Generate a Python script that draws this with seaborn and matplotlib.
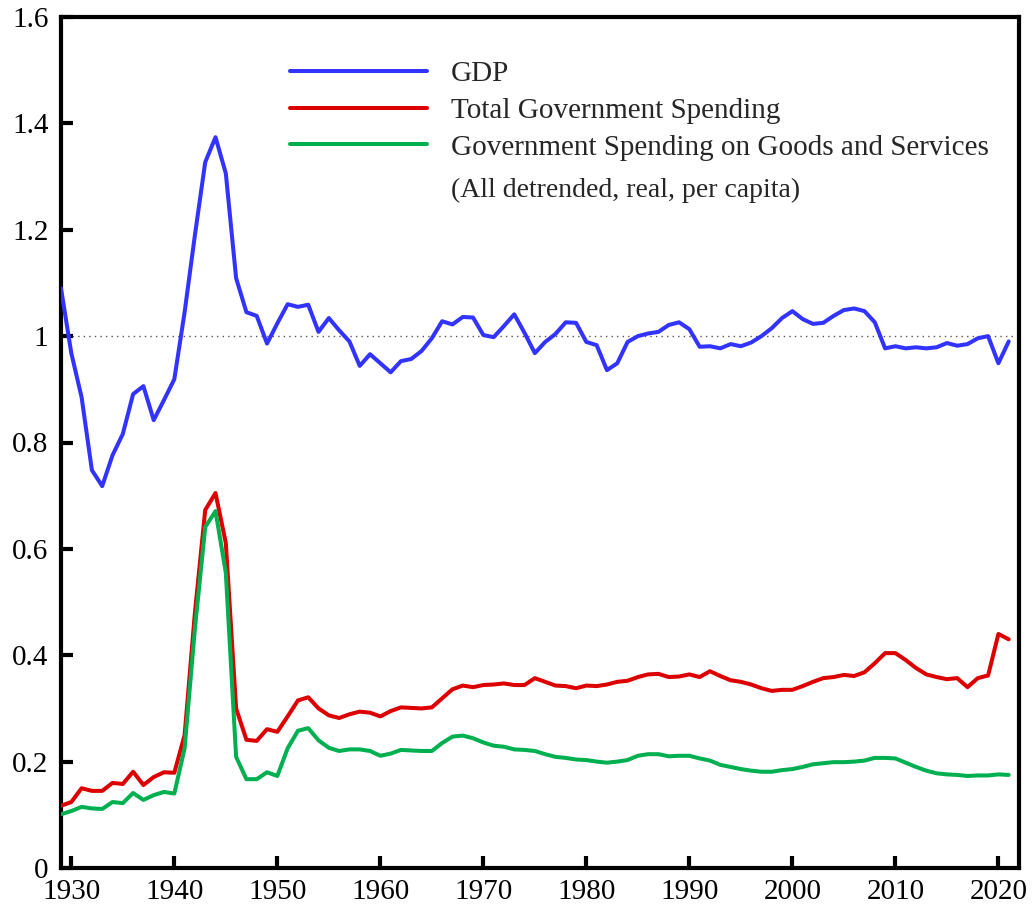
import numpy as np
import pandas as pd
import matplotlib
matplotlib.use("Agg")
import matplotlib.pyplot as plt
import seaborn as sns

years = list(range(1929, 2022))

gdp = [
    1.090,
    0.968, 0.885, 0.748, 0.718, 0.776, 0.816, 0.891, 0.906, 0.842, 0.880,
    0.919, 1.045, 1.190, 1.327, 1.374, 1.306, 1.109, 1.045, 1.038, 0.986,
    1.024, 1.060, 1.055, 1.059, 1.008, 1.034, 1.011, 0.990, 0.944, 0.966,
    0.949, 0.932, 0.953, 0.957, 0.972, 0.996, 1.028, 1.022, 1.036, 1.035,
    1.002, 0.998, 1.019, 1.041, 1.006, 0.968, 0.989, 1.004, 1.026, 1.025,
    0.989, 0.983, 0.936, 0.949, 0.989, 1.000, 1.005, 1.008, 1.021, 1.026,
    1.013, 0.980, 0.981, 0.977, 0.985, 0.981, 0.988, 1.000, 1.015, 1.034,
    1.047, 1.032, 1.023, 1.025, 1.038, 1.049, 1.052, 1.047, 1.026, 0.977,
    0.981, 0.977, 0.979, 0.977, 0.979, 0.987, 0.982, 0.985, 0.996, 1.000,
    0.949, 0.990,
]

total_spending = [
    0.117,
    0.124, 0.150, 0.145, 0.145, 0.160, 0.158, 0.181, 0.156, 0.171, 0.180,
    0.179, 0.250, 0.480, 0.673, 0.705, 0.611, 0.300, 0.241, 0.239, 0.261,
    0.256, 0.285, 0.315, 0.321, 0.300, 0.287, 0.282, 0.289, 0.294, 0.292,
    0.285, 0.295, 0.302, 0.301, 0.300, 0.302, 0.319, 0.336, 0.343, 0.340,
    0.344, 0.345, 0.347, 0.344, 0.344, 0.357, 0.350, 0.343, 0.342, 0.338,
    0.343, 0.342, 0.345, 0.350, 0.352, 0.359, 0.364, 0.365, 0.359, 0.360,
    0.364, 0.359, 0.370, 0.361, 0.353, 0.350, 0.345, 0.338, 0.333, 0.335,
    0.335, 0.342, 0.350, 0.357, 0.359, 0.363, 0.361, 0.368, 0.385, 0.404,
    0.404, 0.391, 0.376, 0.364, 0.359, 0.355, 0.357, 0.340, 0.357, 0.362,
    0.440, 0.430,
]

goods_services = [
    0.101,
    0.107, 0.115, 0.112, 0.111, 0.124, 0.122, 0.141, 0.128, 0.137, 0.143,
    0.140, 0.225, 0.450, 0.641, 0.671, 0.555, 0.209, 0.167, 0.167, 0.180,
    0.173, 0.225, 0.258, 0.263, 0.240, 0.226, 0.220, 0.223, 0.223, 0.220,
    0.211, 0.215, 0.222, 0.221, 0.220, 0.220, 0.235, 0.247, 0.249, 0.244,
    0.236, 0.230, 0.228, 0.223, 0.222, 0.220, 0.214, 0.209, 0.207, 0.204,
    0.203, 0.200, 0.198, 0.200, 0.203, 0.211, 0.214, 0.214, 0.210, 0.211,
    0.211, 0.206, 0.202, 0.194, 0.190, 0.186, 0.183, 0.181, 0.181, 0.184,
    0.186, 0.190, 0.195, 0.197, 0.199, 0.199, 0.200, 0.202, 0.207, 0.207,
    0.206, 0.198, 0.190, 0.183, 0.178, 0.176, 0.175, 0.173, 0.174, 0.174,
    0.176, 0.175,
]

series_names = [
    "GDP",
    "Total Government Spending",
    "Government Spending on Goods and Services",
]
series_colors = ["#3333FF", "#DD0000", "#00B050"]
note = "(All detrended, real, per capita)"

x_ticks = list(range(1930, 2021, 10))
y_ticks = [0, 0.2, 0.4, 0.6, 0.8, 1.0, 1.2, 1.4, 1.6]

df = pd.DataFrame({
    "year": years * 3,
    "value": gdp + total_spending + goods_services,
    "series": [series_names[0]] * len(years)
              + [series_names[1]] * len(years)
              + [series_names[2]] * len(years),
})

sns.set_style("ticks")
plt.rcParams["font.family"] = ["Liberation Serif", "DejaVu Serif"]

fig = plt.figure(figsize=(10.34, 9.07), dpi=100)
ax = fig.add_axes([61 / 1034, 39 / 907, (1019 - 61) / 1034, (868 - 17) / 907])

# reference level at 1
ax.axhline(1.0, color="#555555", lw=1.0, ls=(0, (1, 3)), zorder=1)

sns.lineplot(
    data=df, x="year", y="value", hue="series",
    hue_order=series_names, palette=series_colors,
    linewidth=2.9, ax=ax, legend=True, zorder=3,
)

ax.set_xlim(1929, 2022)
ax.set_ylim(0, 1.6)
ax.set_xticks(x_ticks)
ax.set_yticks(y_ticks)
ax.set_yticklabels([f"{v:g}" for v in y_ticks])
ax.set_xlabel("")
ax.set_ylabel("")

for side in ["left", "right", "top", "bottom"]:
    ax.spines[side].set_visible(True)
    ax.spines[side].set_linewidth(3)
    ax.spines[side].set_color("black")

ax.tick_params(axis="both", direction="in", length=8.5, width=3,
               labelsize=21, colors="black", top=False, right=False)
ax.tick_params(axis="y", pad=9)
ax.tick_params(axis="x", pad=8)

leg = ax.legend(
    loc="upper left", bbox_to_anchor=(290 / 1034, 1 - 61 / 907),
    bbox_transform=fig.transFigure, frameon=False, fontsize=21,
    handlelength=4.7, handletextpad=0.82, labelspacing=0.35,
    borderpad=0, borderaxespad=0,
)
for line in leg.get_lines():
    line.set_linewidth(2.9)

fig.text(451 / 1034, 1 - 190 / 907, note, fontsize=20, va="center", ha="left")

fig.savefig("out.png", dpi=100)
